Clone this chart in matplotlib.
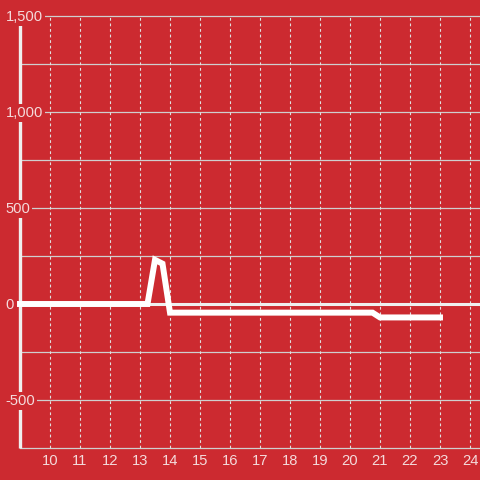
import matplotlib
matplotlib.use("Agg")
import matplotlib.pyplot as plt

# data
hours = [9, 13.25, 13.5, 13.75, 14.0, 20.75, 21.0, 23.0]
values = [0, 0, 230, 210, -45, -45, -70, -70]
x_ticks = list(range(10, 25))
y_grid = [-750, -500, -250, 0, 250, 500, 750, 1000, 1250, 1500]
y_labels = {1500: "1,500", 1000: "1,000", 500: "500", 0: "0", -500: "-500"}

BG = "#cc2a30"
TXT = "#f4dadb"

fig = plt.figure(figsize=(4.8, 4.8), dpi=100, facecolor=BG)
ax = fig.add_axes([0, 0, 1, 1])
ax.set_facecolor(BG)
x0, x1 = 9 - 20 / 30, 9 + 460 / 30
y0, y1 = -750 - 32 / 0.192, 1500 + 16 / 0.192
ax.set_xlim(x0, x1)
ax.set_ylim(y0, y1)
ax.axis("off")

# horizontal grid
for v in y_grid:
    if v == 0:
        continue
    ax.plot([9, x1], [v, v], color="#cfcfcf", lw=0.9, zorder=1)
# vertical dashed grid
for t in x_ticks:
    ax.plot([t, t], [-750, 1500], color="#e0e0e0", lw=0.8, ls=(0, (2.5, 2.5)), zorder=1)
# zero line
ax.plot([9, x1], [0, 0], color="#efefef", lw=2.2, zorder=2)
# y axis line
ax.plot([9, 9], [-750, 1500], color="#efefef", lw=2.4, zorder=2, solid_capstyle="butt")

# data line
ax.plot(hours, values, color="white", lw=4.3, solid_capstyle="projecting",
        solid_joinstyle="miter", zorder=3)

# y labels
for v, s in y_labels.items():
    ax.text(x0 + 5.5 / 30, v - 0.8 / 0.192, s, ha="left", va="center", color=TXT, fontsize=10.6,
            family="Liberation Sans", zorder=5,
            bbox=dict(facecolor=BG, edgecolor="none", pad=1.5))
# x labels
ylab = y1 - 461 / 0.192
for t in x_ticks:
    ax.text(t, ylab, str(t), ha="center", va="center", color=TXT, fontsize=10.6,
            family="Liberation Sans", zorder=5)

fig.savefig("out.png", dpi=100, facecolor=BG)
